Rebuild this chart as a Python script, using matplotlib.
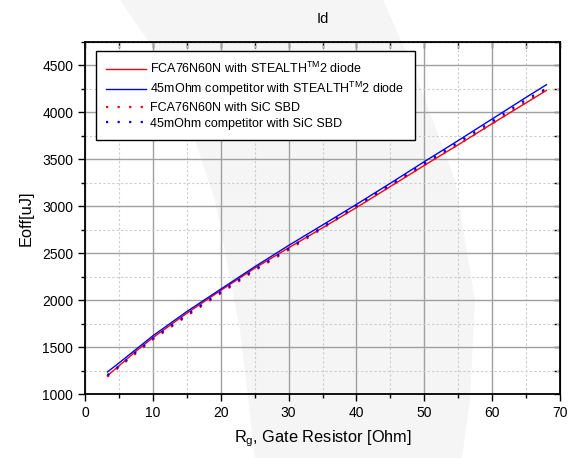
import numpy as np
import matplotlib
matplotlib.use('Agg')
import matplotlib.pyplot as plt
from matplotlib.patches import Polygon
from matplotlib.ticker import MultipleLocator

plt.rcParams['font.family'] = ['Liberation Sans', 'DejaVu Sans']
plt.rcParams['mathtext.fontset'] = 'custom'
plt.rcParams['mathtext.rm'] = 'Liberation Sans'

#==================== data ====================
rg = [3.3, 5, 7.5, 10, 15, 20, 25, 30, 35, 40, 45, 50, 55, 60, 65, 68]

eoff_fca_stealth = [1195, 1300, 1455, 1600, 1860, 2103, 2340, 2557, 2770,
                    2986, 3210, 3435, 3655, 3880, 4102, 4234]
eoff_comp_stealth = [1235, 1330, 1475, 1620, 1878, 2117, 2355, 2582, 2800,
                     3020, 3245, 3475, 3700, 3930, 4160, 4295]
eoff_fca_sic = [1185, 1285, 1435, 1580, 1832, 2074, 2315, 2536, 2765,
                2993, 3215, 3440, 3660, 3880, 4110, 4245]
eoff_comp_sic = [1200, 1295, 1445, 1590, 1842, 2085, 2325, 2548, 2778,
                 3005, 3230, 3455, 3680, 3905, 4135, 4255]

labels = [r'FCA76N60N with STEALTH$^{\mathrm{TM}}$2 diode',
          r'45mOhm competitor with STEALTH$^{\mathrm{TM}}$2 diode',
          'FCA76N60N with SiC SBD',
          '45mOhm competitor with SiC SBD']

#============================ plot ====================================
fig = plt.figure(figsize=(5.79, 4.58), dpi=100)
fig.patch.set_facecolor('white')

# faint watermark swoosh behind the chart (pixel coords, y from top)
pts = [[120, 0], [175, 80], [215, 200], [240, 330], [255, 458],
       [462, 458], [470, 400], [475, 300], [455, 180], [413, 67], [383, 0]]
swoosh = Polygon([[x, 458 - y] for x, y in pts], closed=True, transform=None,
                 facecolor='#f5f5f5', edgecolor='none', zorder=-10)
fig.add_artist(swoosh)

ax = fig.add_axes([85/579, 1 - 394/458, 475/579, 352/458])
ax.patch.set_alpha(0)

ax.plot(rg, eoff_fca_stealth, color='#ff0000', lw=1.0, label=labels[0], zorder=3)
ax.plot(rg, eoff_comp_stealth, color='#0000ff', lw=1.0, label=labels[1], zorder=3)
ax.plot(rg, eoff_fca_sic, color='#ff0000', lw=1.6, ls=(0, (1, 4.2)),
        dash_capstyle='butt', label=labels[2], zorder=3)
ax.plot(rg, eoff_comp_sic, color='#0000ff', lw=1.6, ls=(0, (1, 4.2)),
        dash_capstyle='butt', label=labels[3], zorder=4)

ax.set_xlim(0, 70)
ax.set_ylim(1000, 4750)
ax.xaxis.set_major_locator(MultipleLocator(10))
ax.xaxis.set_minor_locator(MultipleLocator(5))
ax.yaxis.set_major_locator(MultipleLocator(500))
ax.yaxis.set_minor_locator(MultipleLocator(250))
ax.set_yticks([1000, 1500, 2000, 2500, 3000, 3500, 4000, 4500])

ax.grid(True, which='major', color='#a0a0a0', lw=1.0, ls='-')
ax.grid(True, which='minor', color='#cccccc', lw=0.8, ls=(0, (2, 2)))
ax.set_axisbelow(True)

ax.tick_params(which='major', direction='out', length=5, width=1, labelsize=10, color='black')
ax.tick_params(which='minor', direction='out', length=3, width=1)
for s in ax.spines.values():
    s.set_linewidth(1.3)

top = ax.secondary_xaxis('top')
top.xaxis.set_major_locator(MultipleLocator(5))
top.tick_params(direction='in', length=4, width=1, labeltop=False)
right = ax.secondary_yaxis('right')
right.yaxis.set_major_locator(MultipleLocator(250))
right.tick_params(direction='in', length=4, width=1, labelright=False)

ax.set_title('Id', fontsize=10.5, pad=14)
ax.set_ylabel('Eoff[uJ]', fontsize=11.8, labelpad=6)
ax.set_xlabel(r'R$_{\mathrm{g}}$, Gate Resistor [Ohm]', fontsize=11.8, labelpad=6)

leg = ax.legend(loc='upper left', bbox_to_anchor=(0.023, 0.974), fontsize=9,
                fancybox=False, edgecolor='black', framealpha=1, handlelength=3.2,
                handletextpad=0.35, labelspacing=0.3, borderpad=0.8, borderaxespad=0)
leg.get_frame().set_linewidth(1.0)

plt.savefig('out.png', dpi=100)
